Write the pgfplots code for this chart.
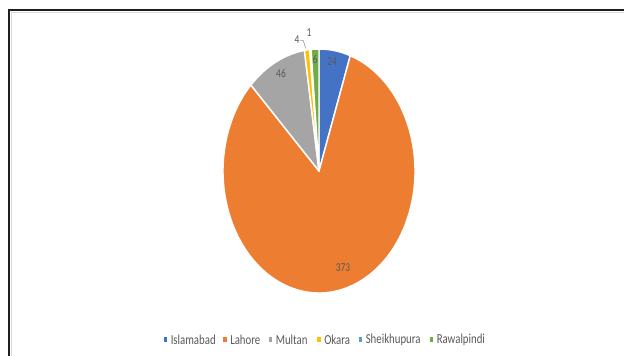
\documentclass[border=0pt]{standalone}
\usepackage{pgfplots}
\usepackage{pgfplotstable}
\pgfplotsset{compat=1.18}
\usepackage{fontspec}
\setmainfont{Carlito}
\definecolor{slice0}{HTML}{4472C4}
\definecolor{slice1}{HTML}{ED7D31}
\definecolor{slice2}{HTML}{A5A5A5}
\definecolor{slice3}{HTML}{FFC000}
\definecolor{slice4}{HTML}{5B9BD5}
\definecolor{slice5}{HTML}{70AD47}
\definecolor{lbl}{HTML}{595959}
\definecolor{frame}{HTML}{1F1F1F}

\pgfplotstableread{
name value
Islamabad 24
Lahore 373
Multan 46
Okara 4
Sheikhupura 1
Rawalpindi 6
}\piedata

% total
\gdef\pietotal{0}
\pgfplotstableforeachcolumnelement{value}\of\piedata\as\v{%
  \pgfmathsetmacro\tmp{\pietotal+\v}\xdef\pietotal{\tmp}}
% cumulative angles
\gdef\piecum{0}
\pgfplotstableforeachcolumnelement{value}\of\piedata\as\v{%
  \pgfmathsetmacro\tmpa{90-(\piecum/\pietotal)*360}%
  \pgfmathsetmacro\tmpb{90-((\piecum+\v)/\pietotal)*360}%
  \expandafter\xdef\csname sa\pgfplotstablerow\endcsname{\tmpa}%
  \expandafter\xdef\csname eb\pgfplotstablerow\endcsname{\tmpb}%
  \pgfmathsetmacro\tmpc{\piecum+\v}\xdef\piecum{\tmpc}}

\newcommand\legitem[3]{%
  \fill[#2] (axis cs:#1-1.8,13.5) rectangle (axis cs:#1+1.8,18.5);
  \node[lg] at (axis cs:#1+5,16) {#3};}

\begin{document}
\begin{tikzpicture}
\useasboundingbox (0,0) rectangle (468pt,267pt);
\begin{axis}[
  x=0.75pt, y=0.75pt,
  xmin=0, xmax=624, ymin=0, ymax=356,
  hide axis, clip=false,
]
% frame
\draw[frame, line width=1.5pt] (axis cs:9,0) -- (axis cs:9,346) -- (axis cs:630,346);
\draw[gray!30, line width=0.5pt] (axis cs:11.5,0) -- (axis cs:11.5,343.5) -- (axis cs:630,343.5);
% slices
\pgfplotsinvokeforeach{0,...,5}{
  \fill[slice#1, draw=white, line width=1.1pt, line join=round]
    (axis cs:319,185) -- ++(\csname sa#1\endcsname:72pt and 91.5pt)
    arc[start angle=\csname sa#1\endcsname, end angle=\csname eb#1\endcsname, x radius=72pt, y radius=91.5pt] -- cycle;
}
% data labels
\tikzset{dl/.style={font=\fontsize{7.1}{8}\selectfont, text=lbl, yscale=1.27, transform shape, inner sep=0pt}}
\node[dl] at (axis cs:332,294) {24};
\node[dl] at (axis cs:343,88) {373};
\node[dl] at (axis cs:281,283) {46};
\node[dl] at (axis cs:297,316) {4};
\node[dl] at (axis cs:309,323) {1};
\node[dl] at (axis cs:315,297) {6};
\draw[lbl!70, line width=0.4pt] (axis cs:300.3,315.3) -- (axis cs:303.3,315.3) -- (axis cs:305.7,307.7);
% legend
\tikzset{lg/.style={font=\fontsize{8.1}{9}\selectfont, text=lbl, yscale=1.27, transform shape, inner sep=0pt, anchor=west}}
\legitem{165.5}{slice0}{Islamabad}
\legitem{225}{slice1}{Lahore}
\legitem{270.5}{slice2}{Multan}
\legitem{319}{slice3}{Okara}
\legitem{360.5}{slice4}{Sheikhupura}
\legitem{431.5}{slice5}{Rawalpindi}
\end{axis}
\end{tikzpicture}
\end{document}
